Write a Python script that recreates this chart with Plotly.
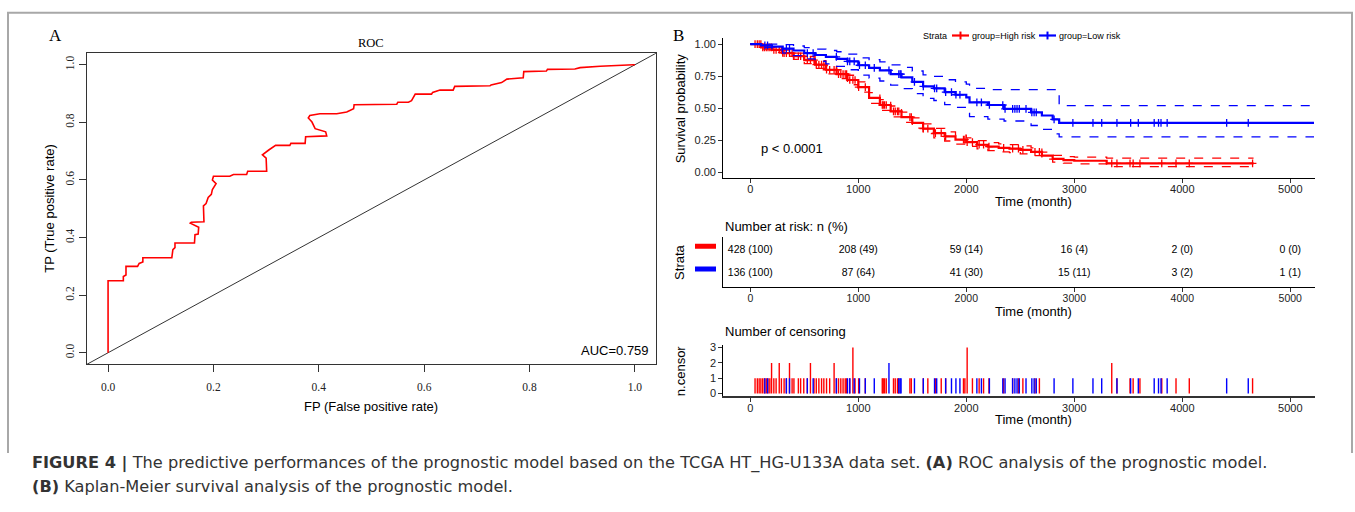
import numpy as np
import plotly.graph_objects as go

W, H = 1355, 512

# ---------------- Panel A : ROC ----------------
roc_fp = [0.000, 0.000, 0.029, 0.029, 0.034, 0.034, 0.056, 0.059, 0.066, 0.066,
          0.121, 0.123, 0.127, 0.127, 0.164, 0.165, 0.171, 0.172, 0.156, 0.158,
          0.182, 0.181, 0.186, 0.190, 0.196, 0.198, 0.205, 0.198, 0.200, 0.231,
          0.238, 0.263, 0.265, 0.301, 0.300, 0.293, 0.305, 0.318, 0.345, 0.347,
          0.374, 0.375, 0.415, 0.413, 0.393, 0.387, 0.380, 0.383, 0.402, 0.434,
          0.453, 0.466, 0.467, 0.548, 0.550, 0.570, 0.576, 0.583, 0.614, 0.616,
          0.630, 0.655, 0.658, 0.725, 0.727, 0.747, 0.757, 0.788, 0.789, 0.832,
          0.834, 0.886, 0.896, 0.934, 0.997, 1.000]
roc_tp = [0.000, 0.250, 0.250, 0.265, 0.270, 0.300, 0.300, 0.310, 0.315, 0.330,
          0.330, 0.358, 0.365, 0.381, 0.381, 0.410, 0.412, 0.436, 0.450, 0.453,
          0.455, 0.510, 0.518, 0.539, 0.550, 0.567, 0.587, 0.600, 0.613, 0.613,
          0.619, 0.619, 0.630, 0.630, 0.676, 0.687, 0.704, 0.720, 0.720, 0.727,
          0.727, 0.750, 0.753, 0.767, 0.778, 0.801, 0.815, 0.824, 0.830, 0.830,
          0.836, 0.847, 0.861, 0.863, 0.870, 0.870, 0.875, 0.898, 0.898, 0.904,
          0.912, 0.912, 0.925, 0.927, 0.930, 0.938, 0.950, 0.955, 0.976, 0.978,
          0.984, 0.985, 0.990, 0.995, 1.000, 1.000]
roc_ticks = [0.0, 0.2, 0.4, 0.6, 0.8, 1.0]
roc_range = [-0.04, 1.04]
auc_text = "AUC=0.759"

# ---------------- Panel B : Kaplan-Meier ----------------
high_t = [0, 100, 200, 300, 400, 500, 600, 700, 800, 900, 1000, 1100, 1200, 1300,
          1400, 1500, 1600, 1700, 1800, 1900, 2000, 2100, 2200, 2300, 2400, 2500,
          2600, 2700, 2800, 2900, 3000, 3300, 4660]
high_s = [1.000, 0.975, 0.955, 0.930, 0.905, 0.875, 0.840, 0.800, 0.765, 0.720,
          0.665, 0.580, 0.525, 0.475, 0.430, 0.385, 0.340, 0.305, 0.280, 0.255,
          0.235, 0.215, 0.200, 0.190, 0.185, 0.175, 0.160, 0.130, 0.105, 0.095,
          0.090, 0.070, 0.070]
high_up = [1.000, 0.990, 0.975, 0.953, 0.930, 0.903, 0.870, 0.833, 0.800, 0.757,
           0.705, 0.622, 0.567, 0.517, 0.470, 0.425, 0.378, 0.342, 0.316, 0.290,
           0.268, 0.247, 0.231, 0.221, 0.216, 0.206, 0.190, 0.158, 0.132, 0.122,
           0.118, 0.110, 0.110]
high_lo = [1.000, 0.960, 0.935, 0.907, 0.880, 0.847, 0.810, 0.767, 0.730, 0.683,
           0.625, 0.538, 0.483, 0.433, 0.390, 0.345, 0.302, 0.268, 0.244, 0.220,
           0.202, 0.183, 0.169, 0.159, 0.154, 0.144, 0.130, 0.102, 0.080, 0.071,
           0.066, 0.045, 0.045]

low_t = [0, 100, 200, 300, 400, 500, 600, 700, 800, 900, 1000, 1100, 1200, 1300,
         1400, 1500, 1600, 1700, 1800, 1900, 2000, 2030, 2200, 2350, 2600, 2700,
         2800, 2860, 5220]
low_s = [1.000, 0.990, 0.980, 0.965, 0.950, 0.930, 0.915, 0.900, 0.885, 0.865,
         0.835, 0.815, 0.795, 0.765, 0.740, 0.705, 0.670, 0.655, 0.625, 0.605,
         0.585, 0.545, 0.525, 0.495, 0.468, 0.443, 0.412, 0.386, 0.386]
low_up = [1.000, 1.000, 1.000, 0.995, 0.985, 0.972, 0.960, 0.950, 0.940, 0.922,
          0.893, 0.878, 0.862, 0.838, 0.818, 0.790, 0.760, 0.748, 0.722, 0.705,
          0.688, 0.655, 0.645, 0.645, 0.645, 0.645, 0.645, 0.520, 0.520]
low_lo = [1.000, 0.975, 0.955, 0.930, 0.910, 0.885, 0.866, 0.846, 0.826, 0.800,
          0.758, 0.735, 0.712, 0.680, 0.652, 0.614, 0.576, 0.560, 0.528, 0.506,
          0.484, 0.435, 0.415, 0.400, 0.365, 0.335, 0.300, 0.276, 0.276]

high_cens_t = [44, 65, 82, 98, 115, 131, 148, 164, 181, 197, 218, 239, 268, 288, 313,
               334, 363, 387, 404, 445, 466, 495, 528, 557, 590, 611, 635, 660, 681,
               706, 735, 776, 797, 817, 838, 859, 879, 892, 921, 950, 970, 1003, 1065,
               1222, 1231, 1243, 1259, 1326, 1342, 1363, 1375, 1478, 1491, 1602, 1644,
               1714, 1768, 1809, 1974, 1987, 2008, 2057, 2119, 2160, 2210, 2346, 2429,
               2483, 2524, 2636, 2677, 3347, 3395, 3516, 3545, 3608, 3810, 3942, 4065,
               4651]
high_cens_n = [1, 1, 1, 1, 1, 1, 1, 1, 1, 2, 1, 1, 2, 1, 1,
               1, 2, 1, 1, 1, 1, 1, 1, 2, 1, 1, 1, 1, 1,
               1, 1, 2, 1, 1, 1, 1, 1, 1, 1, 3, 1, 1, 1,
               1, 1, 1, 1, 1, 1, 1, 1, 1, 1, 1, 1,
               1, 1, 1, 1, 1, 3, 1, 1, 1, 1, 1, 1,
               1, 1, 1, 1, 2, 1, 1, 1, 1, 1, 1, 1,
               1]
low_cens_t = [135, 160, 334, 363, 528, 582, 797, 900, 921, 962, 1011, 1065, 1148, 1284,
              1375, 1388, 1396, 1520, 1602, 1706, 1726, 1809, 1863, 1904, 1941, 2098,
              2140, 2214, 2338, 2359, 2429, 2450, 2470, 2491, 2553, 2607, 2628, 2648,
              2813, 2987, 3173, 3254, 3395, 3522, 3593, 3740, 3780, 3803, 3860, 4411,
              4611]
low_cens_n = [1, 1, 1, 1, 1, 1, 1, 1, 1, 1, 1, 1, 1, 2,
              1, 1, 1, 1, 1, 1, 1, 1, 1, 1, 1, 1,
              1, 1, 1, 1, 1, 1, 1, 1, 1, 1, 1, 1,
              1, 1, 1, 1, 1, 1, 1, 1, 1, 1, 1, 1,
              1]

risk_times = [0, 1000, 2000, 3000, 4000, 5000]
risk_high = ["428 (100)", "208 (49)", "59 (14)", "16 (4)", "2 (0)", "0 (0)"]
risk_low = ["136 (100)", "87 (64)", "41 (30)", "15 (11)", "3 (2)", "1 (1)"]
km_yticks = [0.0, 0.25, 0.5, 0.75, 1.0]
km_yticklabels = ["0.00", "0.25", "0.50", "0.75", "1.00"]
time_ticks = [0, 1000, 2000, 3000, 4000, 5000]
cens_yticks = [0, 1, 2, 3]
time_range = [-250, 5229]
legend_title = "Strata"
group_names = ["group=High risk", "group=Low risk"]

RED = "#FF0000"
BLUE = "#0000FF"
SANS = "Liberation Sans, Arial, sans-serif"
SERIF = "Liberation Serif, Times New Roman, serif"


def pxx(p):
    return p / W


def pxy(p):
    return 1 - p / H


def step_at(t, s, q):
    t = np.asarray(t, float)
    s = np.asarray(s, float)
    idx = np.searchsorted(t, np.asarray(q, float), side="right") - 1
    return s[np.clip(idx, 0, len(s) - 1)]


def seg_xy(ts, ns):
    xs, ys = [], []
    for t, n in zip(ts, ns):
        xs += [t, t, None]
        ys += [0, n, None]
    return xs, ys


fig = go.Figure()

# ROC
fig.add_trace(go.Scatter(x=roc_range, y=roc_range, mode="lines",
                         line=dict(color="#333333", width=1),
                         xaxis="x", yaxis="y", showlegend=False, hoverinfo="skip"))
fig.add_trace(go.Scatter(x=roc_fp, y=roc_tp, mode="lines",
                         line=dict(color=RED, width=1.6),
                         xaxis="x", yaxis="y", showlegend=False))

# KM curves
for t, s, up, lo, ct, col in [(high_t, high_s, high_up, high_lo, high_cens_t, RED),
                              (low_t, low_s, low_up, low_lo, low_cens_t, BLUE)]:
    for band in (up, lo):
        fig.add_trace(go.Scatter(x=t, y=band, mode="lines", line_shape="hv",
                                 line=dict(color=col, width=1.3, dash="dash"),
                                 xaxis="x2", yaxis="y2", showlegend=False))
    fig.add_trace(go.Scatter(x=t, y=s, mode="lines", line_shape="hv",
                             line=dict(color=col, width=2.2),
                             xaxis="x2", yaxis="y2", showlegend=False))
    fig.add_trace(go.Scatter(x=ct, y=step_at(t, s, ct), mode="markers",
                             marker=dict(symbol="cross-thin", size=5.5,
                                         line=dict(color=col, width=1.3)),
                             xaxis="x2", yaxis="y2", showlegend=False))

# risk table
for row, labels in [(2, risk_high), (1, risk_low)]:
    fig.add_trace(go.Scatter(x=risk_times, y=[row] * len(risk_times), mode="text",
                             text=labels, textfont=dict(family=SANS, size=10.5, color="black"),
                             textposition="middle center", cliponaxis=False,
                             xaxis="x3", yaxis="y3", showlegend=False))

# censoring
for ct, cn, col in [(high_cens_t, high_cens_n, RED), (low_cens_t, low_cens_n, BLUE)]:
    xs, ys = seg_xy(ct, cn)
    fig.add_trace(go.Scatter(x=xs, y=ys, mode="lines", line=dict(color=col, width=1.4),
                             xaxis="x4", yaxis="y4", showlegend=False))

axis_common = dict(showgrid=False, zeroline=False, showline=True, ticks="outside")
gg_tick = dict(family=SANS, size=11, color="#222222")

fig.update_layout(
    width=W, height=H, autosize=False, showlegend=False,
    margin=dict(l=0, r=0, t=0, b=0),
    paper_bgcolor="white", plot_bgcolor="white",
    xaxis=dict(**axis_common, domain=[pxx(87), pxx(656)], anchor="y", range=roc_range,
               mirror=True, linecolor="#333333", linewidth=1, ticklen=7, tickcolor="#333333",
               tickvals=roc_ticks, ticktext=["%.1f" % v for v in roc_ticks],
               tickfont=dict(family=SERIF, size=11.5, color="#222222"), ticklabelstandoff=5),
    yaxis=dict(**axis_common, domain=[pxy(366), pxy(50)], anchor="x", range=roc_range,
               mirror=True, linecolor="#333333", linewidth=1, ticklen=7, tickcolor="#333333",
               tickvals=roc_ticks, ticktext=["%.1f" % v for v in roc_ticks], tickangle=-90,
               tickfont=dict(family=SERIF, size=11.5, color="#222222")),
    xaxis2=dict(**axis_common, domain=[pxx(723.3), pxx(1315)], anchor="y2", range=time_range,
                linecolor="black", linewidth=1.2, ticklen=4, tickcolor="#333333",
                tickvals=time_ticks, tickfont=gg_tick, ticklabelstandoff=-3),
    yaxis2=dict(**axis_common, domain=[pxy(176.7), pxy(34.2)], anchor="x2", range=[-0.044, 1.05],
                linecolor="black", linewidth=1.2, ticklen=4, tickcolor="#333333",
                tickvals=km_yticks, ticktext=km_yticklabels, tickfont=gg_tick),
    xaxis3=dict(**axis_common, domain=[pxx(723.3), pxx(1315)], anchor="y3", range=time_range,
                linecolor="black", linewidth=1.2, ticklen=4, tickcolor="#333333",
                tickvals=time_ticks, tickfont=dict(family=SANS, size=10.5, color="#222222"),
                ticklabelstandoff=-3),
    yaxis3=dict(showgrid=False, zeroline=False, showline=True, domain=[pxy(287.7), pxy(236.7)],
                anchor="x3", range=[0.4, 2.6], linecolor="black", linewidth=1.2,
                showticklabels=False, ticks=""),
    xaxis4=dict(**axis_common, domain=[pxx(723.3), pxx(1315)], anchor="y4", range=time_range,
                linecolor="#333333", linewidth=1.6, ticklen=4, tickcolor="#333333",
                tickvals=time_ticks, tickfont=gg_tick, ticklabelstandoff=-3),
    yaxis4=dict(**axis_common, domain=[pxy(398), pxy(346.7)], anchor="x4", range=[-0.15, 3.15],
                linecolor="black", linewidth=1.2, ticklen=4, tickcolor="#333333",
                tickvals=cens_yticks, tickfont=gg_tick),
)

# strata keys for the risk table
for row, col in [(2, RED), (1, BLUE)]:
    fig.add_shape(type="line", xref="paper", yref="y3", x0=pxx(695), x1=pxx(716),
                  y0=row + 0.2, y1=row + 0.2, line=dict(color=col, width=5))

# outer frame (top, left, right)
fig.add_shape(type="path", xref="paper", yref="paper",
              path="M %f,%f L %f,%f L %f,%f L %f,%f" % (pxx(8), pxy(456), pxx(8), pxy(9),
                                                         pxx(1352), pxy(9), pxx(1352), pxy(456)),
              line=dict(color="#a8a8a8", width=2))


def ann(text, x, y, size=13, family=SANS, xanchor="center", yanchor="middle",
        angle=0, color="black"):
    fig.add_annotation(text=text, x=pxx(x), y=pxy(y), xref="paper", yref="paper",
                       showarrow=False, xanchor=xanchor, yanchor=yanchor,
                       textangle=angle, font=dict(family=family, size=size, color=color))


# legend of the KM panel (drawn by hand to match the compact ggplot key)
ann(legend_title, 921, 32, size=9, xanchor="left")
for (x0, x1), name, col in [((952, 969), group_names[0], RED), ((1039, 1056), group_names[1], BLUE)]:
    fig.add_shape(type="line", xref="paper", yref="paper", x0=pxx(x0), x1=pxx(x1),
                  y0=pxy(32), y1=pxy(32), line=dict(color=col, width=2.2))
    xm = (x0 + x1) / 2
    fig.add_shape(type="line", xref="paper", yref="paper", x0=pxx(xm), x1=pxx(xm),
                  y0=pxy(28), y1=pxy(36), line=dict(color=col, width=2))
    ann(name, x1 + 1, 32, size=9, xanchor="left")

ann("A", 55, 32, size=17, family=SERIF)
ann("ROC", 371, 40, size=12.5, family=SERIF)
ann(auc_text, 651, 352, size=13, xanchor="right")
ann("TP (True positive rate)", 50, 208, angle=-90)
ann("FP (False positive rate)", 371, 409)

ann("B", 678, 32, size=17, family=SERIF)
ann("Survival probability", 680, 106, angle=-90)
ann("p < 0.0001", 792, 147)
ann("Time (month)", 1033, 201)
ann("Number at risk: n (%)", 723, 226, xanchor="left")
ann("Strata", 680, 263, angle=-90)
ann("Time (month)", 1033, 312)
ann("Number of censoring", 723, 333, xanchor="left")
ann("n.censor", 680, 373, angle=-90)
ann("Time (month)", 1033, 422)

CAP = "DejaVu Sans, Liberation Sans, sans-serif"
ann("<b>FIGURE 4 |</b> The predictive performances of the prognostic model based on the "
    "TCGA HT_HG-U133A data set. <b>(A)</b> ROC analysis of the prognostic model.",
    30, 466, size=16.2, family=CAP, xanchor="left", color="#333333")
ann("<b>(B)</b> Kaplan-Meier survival analysis of the prognostic model.",
    30, 490, size=16.2, family=CAP, xanchor="left", color="#333333")

fig.write_html("out.html", config={"displayModeBar": False},
               post_script="document.body.style.margin='0px';")
